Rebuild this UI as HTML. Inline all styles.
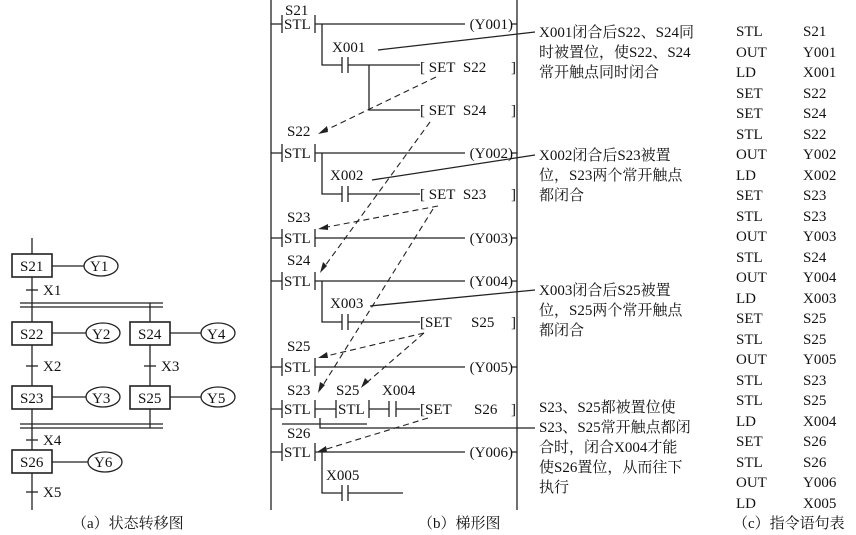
<!DOCTYPE html>
<html><head><meta charset="utf-8"><style>
html,body{margin:0;padding:0;background:#fff;}
svg{display:block;}
text{font-family:"Liberation Serif","Noto Serif CJK SC",serif;font-size:15px;fill:#111;}
</style></head><body>
<svg width="856" height="535" viewBox="0 0 856 535" xmlns="http://www.w3.org/2000/svg">
<g stroke="#222" stroke-width="1.3" fill="none">
<line x1="32" y1="238" x2="32" y2="510"/>
<line x1="150" y1="303" x2="150" y2="428"/>
<line x1="20" y1="303" x2="163" y2="303"/><line x1="20" y1="307" x2="163" y2="307"/>
<line x1="20" y1="424" x2="163" y2="424"/><line x1="20" y1="428" x2="163" y2="428"/>
<line x1="26" y1="290" x2="38" y2="290"/><line x1="26" y1="366" x2="38" y2="366"/>
<line x1="144" y1="366" x2="156" y2="366"/><line x1="26" y1="440" x2="38" y2="440"/>
<line x1="26" y1="492" x2="38" y2="492"/>
<g fill="#fff" stroke-width="1.6">
<rect x="12" y="254" width="40" height="23"/><rect x="12" y="322" width="40" height="23"/>
<rect x="130" y="322" width="40" height="23"/><rect x="12" y="386" width="40" height="23"/>
<rect x="130" y="386" width="40" height="23"/><rect x="12" y="450" width="40" height="23"/>
</g>
<line x1="52" y1="266" x2="84" y2="266"/><line x1="52" y1="333" x2="86" y2="333"/>
<line x1="170" y1="333" x2="201" y2="333"/><line x1="52" y1="397" x2="86" y2="397"/>
<line x1="170" y1="397" x2="201" y2="397"/><line x1="52" y1="462" x2="88" y2="462"/>
<ellipse cx="101" cy="266" rx="17" ry="10"/><ellipse cx="103" cy="333" rx="17" ry="10"/>
<ellipse cx="218" cy="333" rx="17" ry="10"/><ellipse cx="103" cy="397" rx="17" ry="10"/>
<ellipse cx="218" cy="397" rx="17" ry="10"/><ellipse cx="105" cy="462" rx="17" ry="10"/>
<line x1="271" y1="0" x2="271" y2="510"/>
<line x1="517" y1="0" x2="517" y2="510"/>
</g>
<g>
<text x="20" y="271">S21</text><text x="90" y="271">Y1</text>
<text x="20" y="339">S22</text><text x="92" y="339">Y2</text>
<text x="138" y="339">S24</text><text x="207" y="339">Y4</text>
<text x="20" y="403">S23</text><text x="92" y="403">Y3</text>
<text x="138" y="403">S25</text><text x="207" y="403">Y5</text>
<text x="20" y="467">S26</text><text x="94" y="467">Y6</text>
<text x="43" y="295">X1</text><text x="43" y="371">X2</text><text x="161" y="371">X3</text>
<text x="43" y="445">X4</text><text x="43" y="497">X5</text>
<text x="72" y="528">（a）状态转移图</text>
<text x="418" y="528">（b）梯形图</text>
<text x="733" y="528">（c）指令语句表</text>
</g>
<g stroke="#222" stroke-width="1.3" fill="none">
<path d="M271 24H282 M282 15V33 M315 15V33 M315 24H465"/>
<path d="M271 153H282 M282 144V162 M315 144V162 M315 153H465"/>
<path d="M271 238H282 M282 229V247 M315 229V247 M315 238H465"/>
<path d="M271 281H282 M282 272V290 M315 272V290 M315 281H465"/>
<path d="M271 367H282 M282 358V376 M315 358V376 M315 367H465"/>
<path d="M271 409H282 M282 400V418 M315 400V418 M315 409H336 M336 400V418 M369 400V418 M369 409H389 M389 401V417 M396 401V417 M396 409H420"/>
<path d="M271 452H282 M282 443V461 M315 443V461 M315 452H465"/>
<path d="M512 24H517 M512 153H517 M512 238H517 M512 281H517 M512 367H517 M512 452H517"/>
<path d="M322 24V65H342 M342 57V73 M348 57V73 M348 65H420 M369 65V110H420"/>
<path d="M322 153V194H342 M342 186V202 M348 186V202 M348 194H420"/>
<path d="M322 281V322H342 M342 314V330 M348 314V330 M348 322H420"/>
<path d="M322 452V493H342 M342 485V501 M348 485V501 M348 493H403"/>
<path d="M282 424H367 M320 418V428H535"/>
<path d="M378 50L535 32 M372 180L535 155 M370 306L535 290"/>
<g stroke-dasharray="6,4" stroke-width="1.1">
<path d="M436 77L320 133"/><path d="M430 122L322 270"/>
<path d="M438 206L322 228"/><path d="M433 209L320 390"/>
<path d="M424 333L322 357"/><path d="M424 333L364 385"/>
<path d="M428 418L320 451"/>
</g>
</g>
<g fill="#222">
<path d="M318 134l9-8 1 6z"/><path d="M320 273l3-11 4 4z"/>
<path d="M318 229l10-5 0 6z"/><path d="M318 393l2-11 5 3z"/>
<path d="M318 358l9-6 1 6z"/><path d="M361 388l4-10 4 4z"/>
<path d="M317 452l9-6 1 6z"/>
</g>
<g>
<text x="285" y="15">S21</text><text x="284" y="29">STL</text>
<text x="287" y="136">S22</text><text x="284" y="158">STL</text>
<text x="287" y="222">S23</text><text x="284" y="243">STL</text>
<text x="287" y="265">S24</text><text x="284" y="286">STL</text>
<text x="287" y="351">S25</text><text x="284" y="372">STL</text>
<text x="287" y="395">S23</text><text x="284" y="414">STL</text>
<text x="336" y="395">S25</text><text x="338" y="414">STL</text>
<text x="382" y="395">X004</text>
<text x="287" y="438">S26</text><text x="284" y="457">STL</text>
<text x="332" y="52">X001</text><text x="330" y="180">X002</text>
<text x="330" y="308">X003</text><text x="326" y="480">X005</text>
<text x="513" y="29" text-anchor="end">(Y001)</text>
<text x="513" y="158" text-anchor="end">(Y002)</text>
<text x="513" y="243" text-anchor="end">(Y003)</text>
<text x="513" y="286" text-anchor="end">(Y004)</text>
<text x="513" y="372" text-anchor="end">(Y005)</text>
<text x="513" y="457" text-anchor="end">(Y006)</text>
<text x="420" y="72">[ SET&#160;&#160;S22</text><text x="511" y="72">]</text>
<text x="420" y="115">[ SET&#160;&#160;S24</text><text x="511" y="115">]</text>
<text x="420" y="199">[ SET&#160;&#160;S23</text><text x="511" y="199">]</text>
<text x="420" y="327">[SET</text><text x="471" y="327">S25</text><text x="511" y="327">]</text>
<text x="420" y="414">[SET</text><text x="474" y="414">S26</text><text x="511" y="414">]</text>
</g>
<g>
<text x="539" y="37">X001闭合后S22、S24同</text>
<text x="539" y="57">时被置位，使S22、S24</text>
<text x="539" y="77">常开触点同时闭合</text>
<text x="539" y="160">X002闭合后S23被置</text>
<text x="539" y="180">位，S23两个常开触点</text>
<text x="539" y="200">都闭合</text>
<text x="539" y="295">X003闭合后S25被置</text>
<text x="539" y="315">位，S25两个常开触点</text>
<text x="539" y="335">都闭合</text>
<text x="539" y="412">S23、S25都被置位使</text>
<text x="539" y="432">S23、S25常开触点都闭</text>
<text x="539" y="452">合时，闭合X004才能</text>
<text x="539" y="472">使S26置位，从而往下</text>
<text x="539" y="492">执行</text>
</g>
<g>
<text x="736" y="36">STL</text><text x="803" y="36">S21</text>
<text x="736" y="57">OUT</text><text x="803" y="57">Y001</text>
<text x="736" y="77">LD</text><text x="803" y="77">X001</text>
<text x="736" y="98">SET</text><text x="803" y="98">S22</text>
<text x="736" y="118">SET</text><text x="803" y="118">S24</text>
<text x="736" y="139">STL</text><text x="803" y="139">S22</text>
<text x="736" y="159">OUT</text><text x="803" y="159">Y002</text>
<text x="736" y="180">LD</text><text x="803" y="180">X002</text>
<text x="736" y="200">SET</text><text x="803" y="200">S23</text>
<text x="736" y="221">STL</text><text x="803" y="221">S23</text>
<text x="736" y="241">OUT</text><text x="803" y="241">Y003</text>
<text x="736" y="262">STL</text><text x="803" y="262">S24</text>
<text x="736" y="282">OUT</text><text x="803" y="282">Y004</text>
<text x="736" y="303">LD</text><text x="803" y="303">X003</text>
<text x="736" y="323">SET</text><text x="803" y="323">S25</text>
<text x="736" y="344">STL</text><text x="803" y="344">S25</text>
<text x="736" y="364">OUT</text><text x="803" y="364">Y005</text>
<text x="736" y="385">STL</text><text x="803" y="385">S23</text>
<text x="736" y="405">STL</text><text x="803" y="405">S25</text>
<text x="736" y="426">LD</text><text x="803" y="426">X004</text>
<text x="736" y="446">SET</text><text x="803" y="446">S26</text>
<text x="736" y="467">STL</text><text x="803" y="467">S26</text>
<text x="736" y="487">OUT</text><text x="803" y="487">Y006</text>
<text x="736" y="508">LD</text><text x="803" y="508">X005</text>
</g>
</svg>
</body></html>
